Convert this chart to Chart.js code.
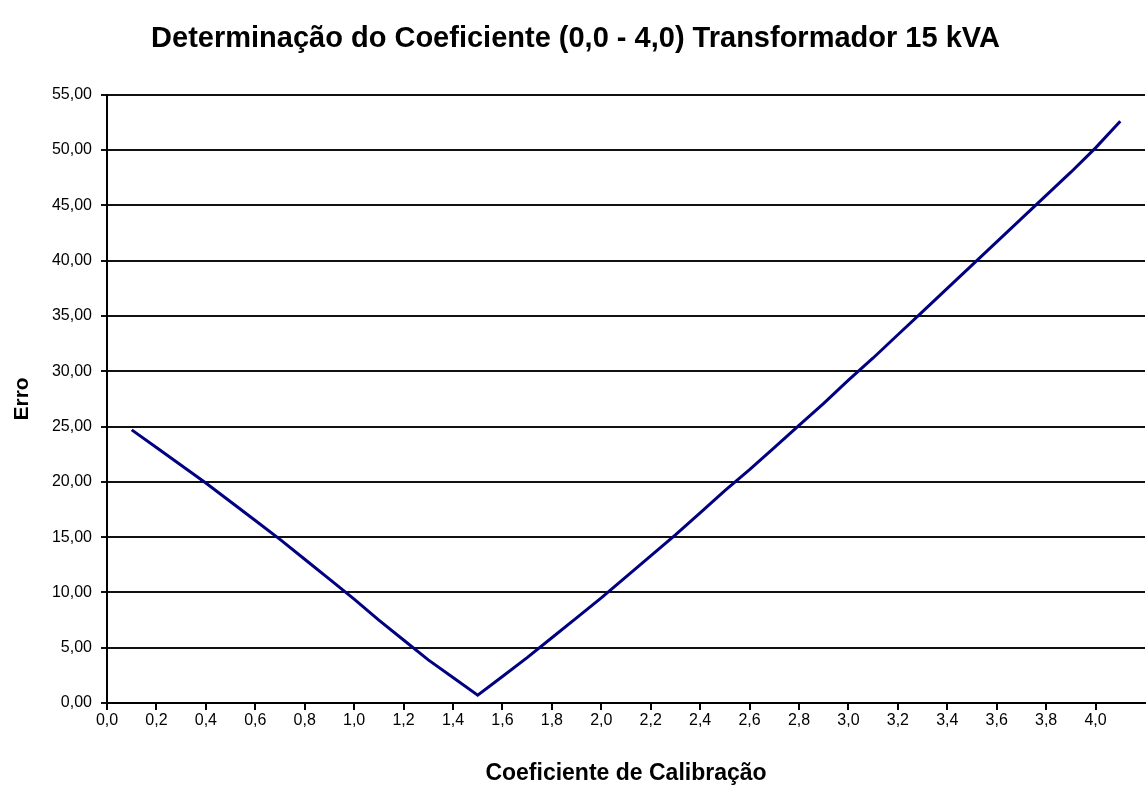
<!DOCTYPE html>
<html>
<head>
<meta charset="utf-8">
<script src="https://cdn.jsdelivr.net/npm/chart.js@4.4.1/dist/chart.umd.min.js"></script>
<style>
  html, body { margin: 0; padding: 0; background: #ffffff; }
  #wrap { width: 1147px; height: 785px; }
</style>
</head>
<body>
<div id="wrap"><canvas id="c" width="1147" height="785"></canvas></div>
<script>
const chartTitle = 'Determinação do Coeficiente (0,0 - 4,0) Transformador 15 kVA';
const xTitle = 'Coeficiente de Calibração';
const yTitle = 'Erro';

const coeficiente = [0.1, 0.2, 0.3, 0.4, 0.5, 0.6, 0.7, 0.8, 0.9, 1.0,
                     1.1, 1.2, 1.3, 1.4, 1.5, 1.6, 1.7, 1.8, 1.9, 2.0,
                     2.1, 2.2, 2.3, 2.4, 2.5, 2.6, 2.7, 2.8, 2.9, 3.0,
                     3.1, 3.2, 3.3, 3.4, 3.5, 3.6, 3.7, 3.8, 3.9, 4.0, 4.1];
const erro = [24.7, 23.1, 21.5, 19.9, 18.2, 16.5, 14.8, 13.0, 11.2, 9.4,
              7.5, 5.7, 3.9, 2.3, 0.7, 2.4, 4.1, 5.9, 7.7, 9.5,
              11.4, 13.3, 15.2, 17.2, 19.2, 21.1, 23.1, 25.1, 27.1, 29.2,
              31.2, 33.3, 35.4, 37.5, 39.6, 41.7, 43.8, 45.9, 48.0, 50.2, 52.6];

const xTicks = [0.0, 0.2, 0.4, 0.6, 0.8, 1.0, 1.2, 1.4, 1.6, 1.8, 2.0,
                2.2, 2.4, 2.6, 2.8, 3.0, 3.2, 3.4, 3.6, 3.8, 4.0];
const yTicks = [0, 5, 10, 15, 20, 25, 30, 35, 40, 45, 50, 55];

const FONT = "'Liberation Sans', Arial, sans-serif";

const points = coeficiente.map((x, i) => ({ x: x, y: erro[i] }));

new Chart(document.getElementById('c'), {
  type: 'line',
  data: {
    datasets: [{
      data: points,
      borderColor: '#000080',
      borderWidth: 3,
      pointRadius: 0,
      tension: 0,
      fill: false
    }]
  },
  options: {
    responsive: false,
    animation: false,
    devicePixelRatio: 1,
    layout: { padding: { left: 6, right: 2, top: 0, bottom: 0 } },
    plugins: {
      legend: { display: false },
      tooltip: { enabled: false },
      title: {
        display: true,
        text: chartTitle,
        color: '#000',
        font: { family: FONT, size: 29, weight: 'bold' },
        padding: { top: 22, bottom: 38 }
      }
    },
    scales: {
      x: {
        type: 'linear',
        min: 0,
        max: 4.2,
        offset: false,
        afterBuildTicks: (s) => { s.ticks = xTicks.map(v => ({ value: v })); },
        afterFit: (s) => { s.height = 82; },
        ticks: {
          color: '#000',
          padding: 1,
          maxRotation: 0,
          autoSkip: false,
          font: { family: FONT, size: 16 },
          callback: (v) => Number(v).toFixed(1).replace('.', ',')
        },
        grid: {
          drawOnChartArea: false,
          drawTicks: true,
          tickLength: 7,
          color: '#000',
          lineWidth: 2
        },
        border: { display: true, color: '#000', width: 2 },
        title: {
          display: true,
          text: xTitle,
          color: '#000',
          font: { family: FONT, size: 23, weight: 'bold', lineHeight: 1 },
          padding: { top: 0, bottom: 0 }
        }
      },
      y: {
        type: 'linear',
        min: 0,
        max: 55,
        afterBuildTicks: (s) => { s.ticks = yTicks.map(v => ({ value: v })); },
        afterFit: (s) => { s.width = 101; },
        ticks: {
          color: '#000',
          padding: 9,
          autoSkip: false,
          font: { family: FONT, size: 16 },
          callback: (v) => Number(v).toFixed(2).replace('.', ',')
        },
        grid: {
          drawOnChartArea: true,
          drawTicks: true,
          tickLength: 6,
          color: '#111',
          lineWidth: 2
        },
        border: { display: true, color: '#000', width: 2 },
        title: {
          display: true,
          text: yTitle,
          color: '#000',
          font: { family: FONT, size: 21, weight: 'bold', lineHeight: 1 },
          padding: { top: 6, bottom: 0 }
        }
      }
    }
  }
});
</script>
</body>
</html>
